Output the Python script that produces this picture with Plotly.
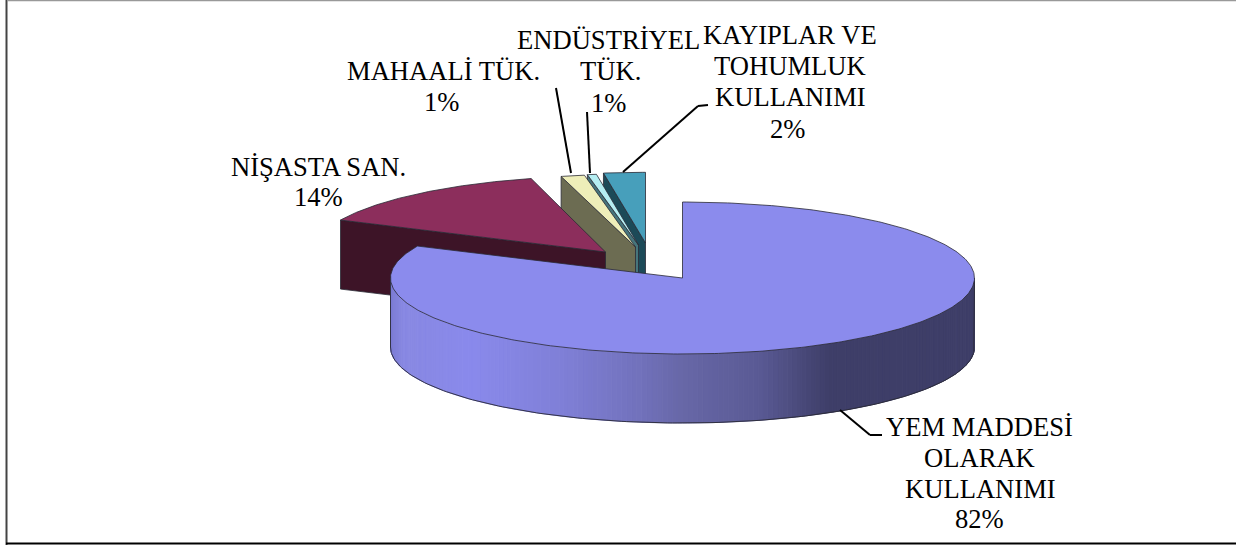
import numpy as np
import plotly.graph_objects as go

# --- data ---
categories = ["YEM MADDESİ OLARAK KULLANIMI", "NİŞASTA SAN.", "MAHAALİ TÜK.",
              "ENDÜSTRİYEL TÜK.", "KAYIPLAR VE TOHUMLUK KULLANIMI"]
slice_values = [81.9, 14.0, 1.3, 0.5, 2.3]
percent_labels = ["82%", "14%", "1%", "1%", "2%"]

# --- styles / geometry of the 3D look ---
top_colors = ["#8b8bed", "#8c2e5c", "#eeeeb9", "#b5eef2", "#479fbb"]
side_colors = ["#8b8bed", "#3d1427", "#6c6c52", "#46757c", "#1c4a58"]
offsets = [(0, 0), (-77, -26), (-47, -31), (-44, -33), (-37, -35)]
depth_scale = [1.0, 1.0, 0.96, 0.94, 0.93]
CX, CY, RX, RY, DEPTH = 682.5, 278, 292, 76, 69
LINE = "#2a2a35"

grad_x = [390, 402, 470, 560, 640, 680, 760, 830, 975]
grad_rgb = [(124, 124, 212), (136, 136, 226), (138, 138, 236), (128, 128, 216),
            (114, 114, 188), (104, 104, 168), (90, 90, 148), (62, 62, 104), (62, 62, 104)]

total = sum(slice_values)
edges = np.concatenate([[0], np.cumsum(slice_values)]) / total * 360


def rim(a0, a1, dx=0, dy=0, n=160, s=1.0):
    t = np.radians(np.linspace(a0, a1, n))
    return CX + dx + RX * np.sin(t), CY + dy - RY * s * np.cos(t)


def poly(x, y, fill, line=LINE, width=0.8):
    return go.Scatter(x=list(x), y=list(y), mode="lines", fill="toself", fillcolor=fill,
                      line=dict(color=line, width=width), hoverinfo="skip", showlegend=False)


fig = go.Figure()

# back-to-front: small slices first, the main slice last
for i in [4, 3, 2, 1]:
    dx, dy = offsets[i]
    a0, a1 = edges[i], edges[i + 1]
    ax, ay = CX + dx, CY + dy
    rx, ry = rim(a0, a1, dx, dy, s=depth_scale[i])
    # visible radial side face (the slice's starting edge)
    fig.add_trace(poly([ax, rx[0], rx[0], ax, ax],
                       [ay, ry[0], ry[0] + DEPTH, ay + DEPTH, ay], side_colors[i]))
    # top face
    fig.add_trace(poly(np.r_[ax, rx, ax], np.r_[ay, ry, ay], top_colors[i]))

# main slice: shaded outer wall, built from thin strips around the front of the rim
a_wall = np.linspace(90, 270, 181)
wx = CX + RX * np.sin(np.radians(a_wall))
wy = CY - RY * np.cos(np.radians(a_wall))
for j in range(len(a_wall) - 1):
    xm = (wx[j] + wx[j + 1]) / 2
    c = [int(np.interp(xm, grad_x, [g[k] for g in grad_rgb])) for k in range(3)]
    col = f"rgb({c[0]},{c[1]},{c[2]})"
    fig.add_trace(poly([wx[j], wx[j + 1], wx[j + 1], wx[j], wx[j]],
                       [wy[j], wy[j + 1], wy[j + 1] + DEPTH, wy[j] + DEPTH, wy[j]],
                       col, line=col, width=1))
fig.add_trace(go.Scatter(x=np.r_[wx[0], wx, wx[-1]], y=np.r_[wy[0], wy + DEPTH, wy[-1]],
                         mode="lines", line=dict(color=LINE, width=0.9),
                         hoverinfo="skip", showlegend=False))
mx, my = rim(edges[0], edges[1], n=400)
fig.add_trace(poly(np.r_[CX, mx, CX], np.r_[CY, my, CY], top_colors[0]))

# labels: one annotation per printed line
label_lines = [
    (["YEM MADDESİ", "OLARAK", "KULLANIMI", percent_labels[0]], [979, 979, 980, 979], [427, 458, 489, 519]),
    (["NİŞASTA SAN.", percent_labels[1]], [318, 318], [167, 197]),
    (["MAHAALİ TÜK.", percent_labels[2]], [443, 441], [71, 102]),
    (["ENDÜSTRİYEL", "TÜK.", percent_labels[3]], [608, 610, 608], [40, 71, 103]),
    (["KAYIPLAR VE", "TOHUMLUK", "KULLANIMI", percent_labels[4]], [790, 790, 790, 787], [35, 66, 97, 129]),
]
for texts, xs, ys in label_lines:
    for t, x, y in zip(texts, xs, ys):
        fig.add_annotation(x=x, y=y, text=t, showarrow=False, xanchor="center", yanchor="middle",
                           font=dict(family="Liberation Serif", size=26.6, color="#000000"))

# leader lines and frame
leaders = [
    [(840, 410), (870, 435), (882, 435)],
    [(556, 88), (571, 173)],
    [(587, 112), (590, 173)],
    [(708, 105), (698, 106), (623, 172)],
]
shapes = []
for pts in leaders:
    for (x0, y0), (x1, y1) in zip(pts[:-1], pts[1:]):
        shapes.append(dict(type="line", x0=x0, y0=y0, x1=x1, y1=y1,
                           line=dict(color="#000000", width=2)))
shapes += [
    dict(type="line", x0=6.5, y0=0, x1=6.5, y1=545, line=dict(color="#444444", width=2)),
    dict(type="line", x0=7, y0=0.5, x1=1236, y1=0.5, line=dict(color="#999999", width=1.5)),
    dict(type="line", x0=6, y0=543.5, x1=1236, y1=543.5, line=dict(color="#000000", width=2)),
]

fig.update_layout(
    width=1236, height=545, margin=dict(l=0, r=0, t=0, b=0),
    paper_bgcolor="#ffffff", plot_bgcolor="#ffffff", showlegend=False, shapes=shapes,
    xaxis=dict(range=[0, 1236], visible=False, fixedrange=True),
    yaxis=dict(range=[545, 0], visible=False, fixedrange=True),
)
fig.write_html("out.html", config={"displayModeBar": False},
               post_script="document.body.style.margin='0';document.documentElement.style.overflow='hidden';")
